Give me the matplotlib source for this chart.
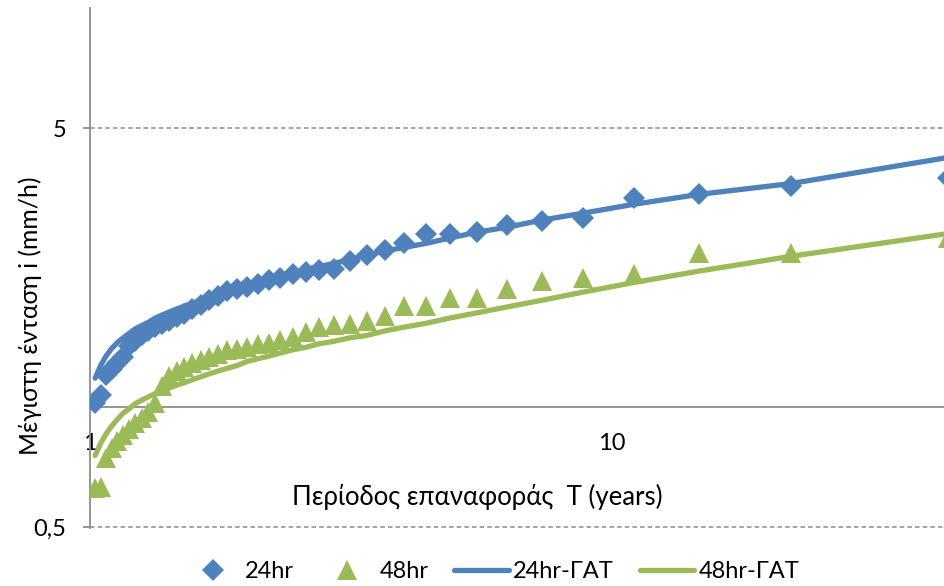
import matplotlib
matplotlib.use("Agg")
import matplotlib.pyplot as plt
from matplotlib.ticker import NullLocator

plt.rcParams['font.family'] = ['Lato', 'DejaVu Sans']

# return period T (years), one value per ranked annual maximum
T = [44, 22, 14.67, 11, 8.8, 7.333, 6.286, 5.5, 4.889, 4.4, 4.0, 3.667, 3.385,
     3.143, 2.933, 2.75, 2.588, 2.444, 2.316, 2.2, 2.095, 2.0, 1.913, 1.833,
     1.76, 1.692, 1.630, 1.571, 1.517, 1.467, 1.419, 1.375, 1.333, 1.294,
     1.257, 1.222, 1.189, 1.158, 1.128, 1.1, 1.073, 1.048, 1.023]

# observed max intensity (mm/h)
i24 = [3.74, 3.57, 3.41, 3.33, 2.97, 2.92, 2.85, 2.74, 2.72, 2.71, 2.57, 2.48,
       2.40, 2.32, 2.22, 2.21, 2.18, 2.15, 2.11, 2.08, 2.03, 2.00, 1.98, 1.95,
       1.90, 1.85, 1.80, 1.76, 1.71, 1.68, 1.64, 1.61, 1.585, 1.55, 1.51, 1.46,
       1.42, 1.33, 1.29, 1.245, 1.20, 1.07, 1.02]
i48 = [2.65, 2.43, 2.43, 2.15, 2.10, 2.065, 1.97, 1.87, 1.87, 1.79, 1.79, 1.69,
       1.64, 1.61, 1.60, 1.585, 1.54, 1.50, 1.47, 1.445, 1.44, 1.41, 1.40, 1.39,
       1.36, 1.33, 1.31, 1.29, 1.26, 1.23, 1.195, 1.13, 1.02, 0.97, 0.94, 0.91,
       0.88, 0.85, 0.82, 0.79, 0.745, 0.63, 0.625]

# fitted (ΓΑΤ) curves
fit24 = [4.22, 3.63, 3.41, 3.22, 3.06, 2.94, 2.82, 2.74, 2.65, 2.57, 2.51, 2.46,
         2.40, 2.34, 2.29, 2.25, 2.21, 2.16, 2.13, 2.09, 2.05, 2.02, 1.98, 1.95,
         1.92, 1.88, 1.85, 1.82, 1.79, 1.76, 1.73, 1.70, 1.67, 1.63, 1.60, 1.57,
         1.53, 1.49, 1.45, 1.40, 1.34, 1.27, 1.18]
fit48 = [2.72, 2.385, 2.19, 2.05, 1.94, 1.85, 1.78, 1.72, 1.67, 1.62, 1.585,
         1.55, 1.51, 1.49, 1.46, 1.44, 1.41, 1.39, 1.365, 1.34, 1.32, 1.30, 1.27,
         1.25, 1.23, 1.21, 1.19, 1.17, 1.15, 1.135, 1.115, 1.10, 1.08, 1.06,
         1.04, 1.02, 0.99, 0.965, 0.93, 0.895, 0.855, 0.81, 0.755]

blue = '#4F81BD'
green = '#9BBB59'
gray = '#8C8C8C'

fig = plt.figure(figsize=(9.45, 5.86), dpi=100)
ax = fig.add_axes([90 / 945, 1 - 528 / 586, 1 - 90 / 945, (528 - 8) / 586])

ax.plot(T, i24, linestyle='none', marker='D', ms=11, color=blue, mew=0,
        label='24hr', zorder=4)
ax.plot(T, i48, linestyle='none', marker='^', ms=15, color=green, mew=0,
        label='48hr', zorder=4)
ax.plot(T, fit24, color=blue, lw=3.8, label='24hr-ΓΑΤ', zorder=3,
        solid_capstyle='round')
ax.plot(T, fit48, color=green, lw=3.8, label='48hr-ΓΑΤ', zorder=3,
        solid_capstyle='round')

ax.set_xscale('log')
ax.set_yscale('log')
ax.set_xlim(1, 43.4)
ax.set_ylim(0.497, 10)

ax.set_xticks([1, 10])
ax.set_xticklabels(['1', '10'])
ax.set_yticks([0.5, 5])
ax.set_yticklabels(['0,5', '5'])
ax.xaxis.set_minor_locator(NullLocator())
ax.yaxis.set_minor_locator(NullLocator())

ax.spines['top'].set_visible(False)
ax.spines['right'].set_visible(False)
ax.spines['left'].set_color(gray)
ax.spines['left'].set_linewidth(1.3)
ax.spines['bottom'].set_position(('data', 1))
ax.spines['bottom'].set_color(gray)
ax.spines['bottom'].set_linewidth(1.3)

ax.tick_params(axis='x', length=0, pad=19, labelsize=17)
ax.tick_params(axis='y', length=5, width=1.3, color=gray, pad=12, labelsize=17)
ax.yaxis.grid(True, linestyle=(0, (3, 2)), color=gray, lw=1.1)
ax.set_axisbelow(True)

fig.text(477 / 945, 1 - 497 / 586, 'Περίοδος επαναφοράς  T (years)',
         ha='center', va='center', fontsize=18.5)
fig.text(30 / 945, 1 - 316 / 586, 'Μέγιστη ένταση i (mm/h)',
         ha='center', va='center', rotation=90, fontsize=17.8)

fig.legend(loc='center', bbox_to_anchor=(493 / 945, 1 - 572 / 586), ncol=4,
           frameon=False, fontsize=17, handlelength=2.3, handletextpad=0.2,
           columnspacing=1.1, borderpad=0)

fig.savefig('out.png', dpi=100)
